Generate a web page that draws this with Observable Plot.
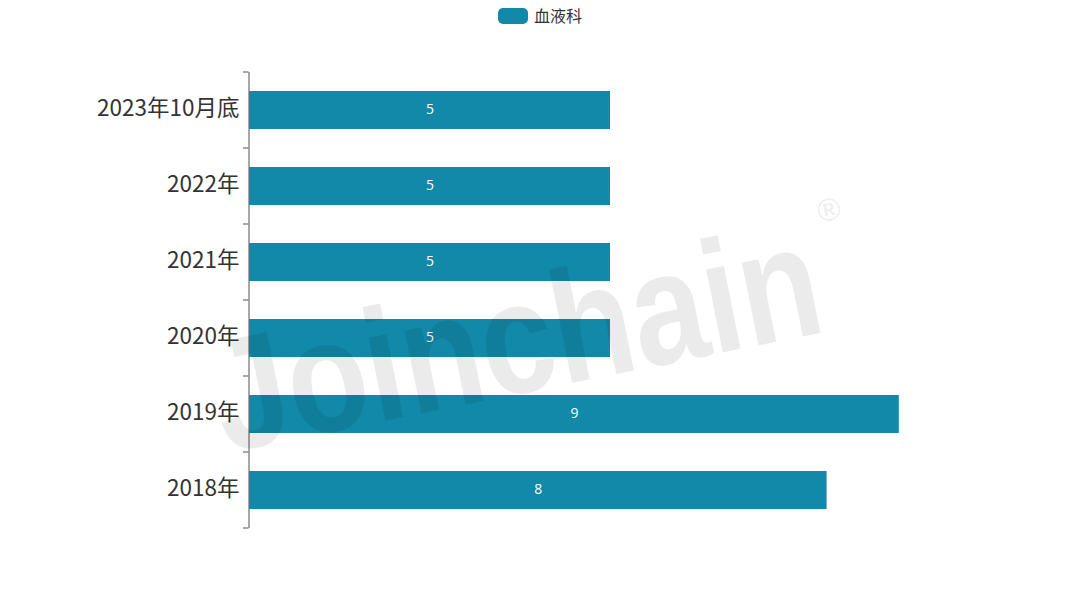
<!DOCTYPE html>
<html>
<head>
<meta charset="utf-8">
<script src="https://cdn.jsdelivr.net/npm/d3@7"></script>
<script src="https://cdn.jsdelivr.net/npm/@observablehq/plot@0.6"></script>
<style>
  body { margin: 0; background: #fff; font-family: "Noto Sans CJK SC", "Noto Sans", sans-serif; }
  #wrap { position: relative; width: 1080px; height: 600px; }
  #legend { position: absolute; top: 3px; left: 0; width: 1080px; text-align: center; font-size: 16px; color: #333; }
  #legend span.sw { display: inline-block; width: 30px; height: 16px; border-radius: 5px; background: #1289a8; vertical-align: -2px; margin-right: 6px; }
</style>
</head>
<body>
<div id="wrap">
  <div id="legend"><span class="sw"></span>血液科</div>
  <div id="chart"></div>
</div>
<script>
const years = ["2023年10月底", "2022年", "2021年", "2020年", "2019年", "2018年"];
const counts = [5, 5, 5, 5, 9, 8];
const seriesName = "血液科";

const rows = years.map((y, i) => ({year: y, value: counts[i]}));
const color = "#1289a8";

const plot = Plot.plot({
  width: 1080,
  height: 600,
  marginTop: 72,
  marginBottom: 72,
  marginLeft: 249,
  marginRight: 109,
  style: {fontFamily: "'Noto Sans CJK SC', 'Noto Sans', sans-serif", background: "transparent"},
  x: {domain: [0, 10], axis: null},
  y: {domain: years, paddingInner: 0.5, paddingOuter: 0.25, label: null, tickSize: 0, tickPadding: 10},
  marks: [
    Plot.barX(rows, {x: "value", y: "year", fill: color}),
    Plot.text(rows, {x: d => d.value / 2, y: "year", text: d => String(d.value), fill: "white", fontSize: 14, dy: -1, fontFamily: "'Open Sans', sans-serif"}),
    Plot.ruleX([0], {stroke: "#6e6e6e", strokeWidth: 1.2, dx: -0.5}),
    Plot.axisY({tickSize: 0, tickPadding: 10, fontSize: 22.5, fill: "#333", dy: -2, label: null})
  ]
});

document.querySelector("#chart").appendChild(plot);

// band-boundary ticks, like the original axis
const y = plot.scale("y");
const svg = d3.select(plot);
const gap = (y.step - y.bandwidth) / 2;
const edges = years.map(d => y.apply(d) - gap).concat([y.apply(years[years.length - 1]) + y.bandwidth + gap]);
svg.append("g")
  .attr("stroke", "#6e6e6e")
  .attr("stroke-width", 1.2)
  .selectAll("line")
  .data(edges)
  .join("line")
  .attr("x1", 243).attr("x2", 248.5)
  .attr("y1", d => d).attr("y2", d => d);

// watermark
const wm = svg.append("g").attr("transform", "translate(527,392) rotate(-11.4)");
wm.append("text")
  .attr("text-anchor", "middle")
  .attr("font-family", "'Liberation Sans', 'DejaVu Sans', sans-serif")
  .attr("font-weight", "bold")
  .attr("font-size", 160)
  .attr("textLength", 615)
  .attr("lengthAdjust", "spacingAndGlyphs")
  .attr("fill", "black")
  .attr("fill-opacity", 0.08)
  .text("Joinchain");
wm.append("text")
  .attr("x", 332).attr("y", -108)
  .attr("font-family", "'Liberation Sans', sans-serif")
  .attr("font-weight", "bold")
  .attr("font-size", 32)
  .attr("fill", "black")
  .attr("fill-opacity", 0.08)
  .text("®");
</script>
</body>
</html>
